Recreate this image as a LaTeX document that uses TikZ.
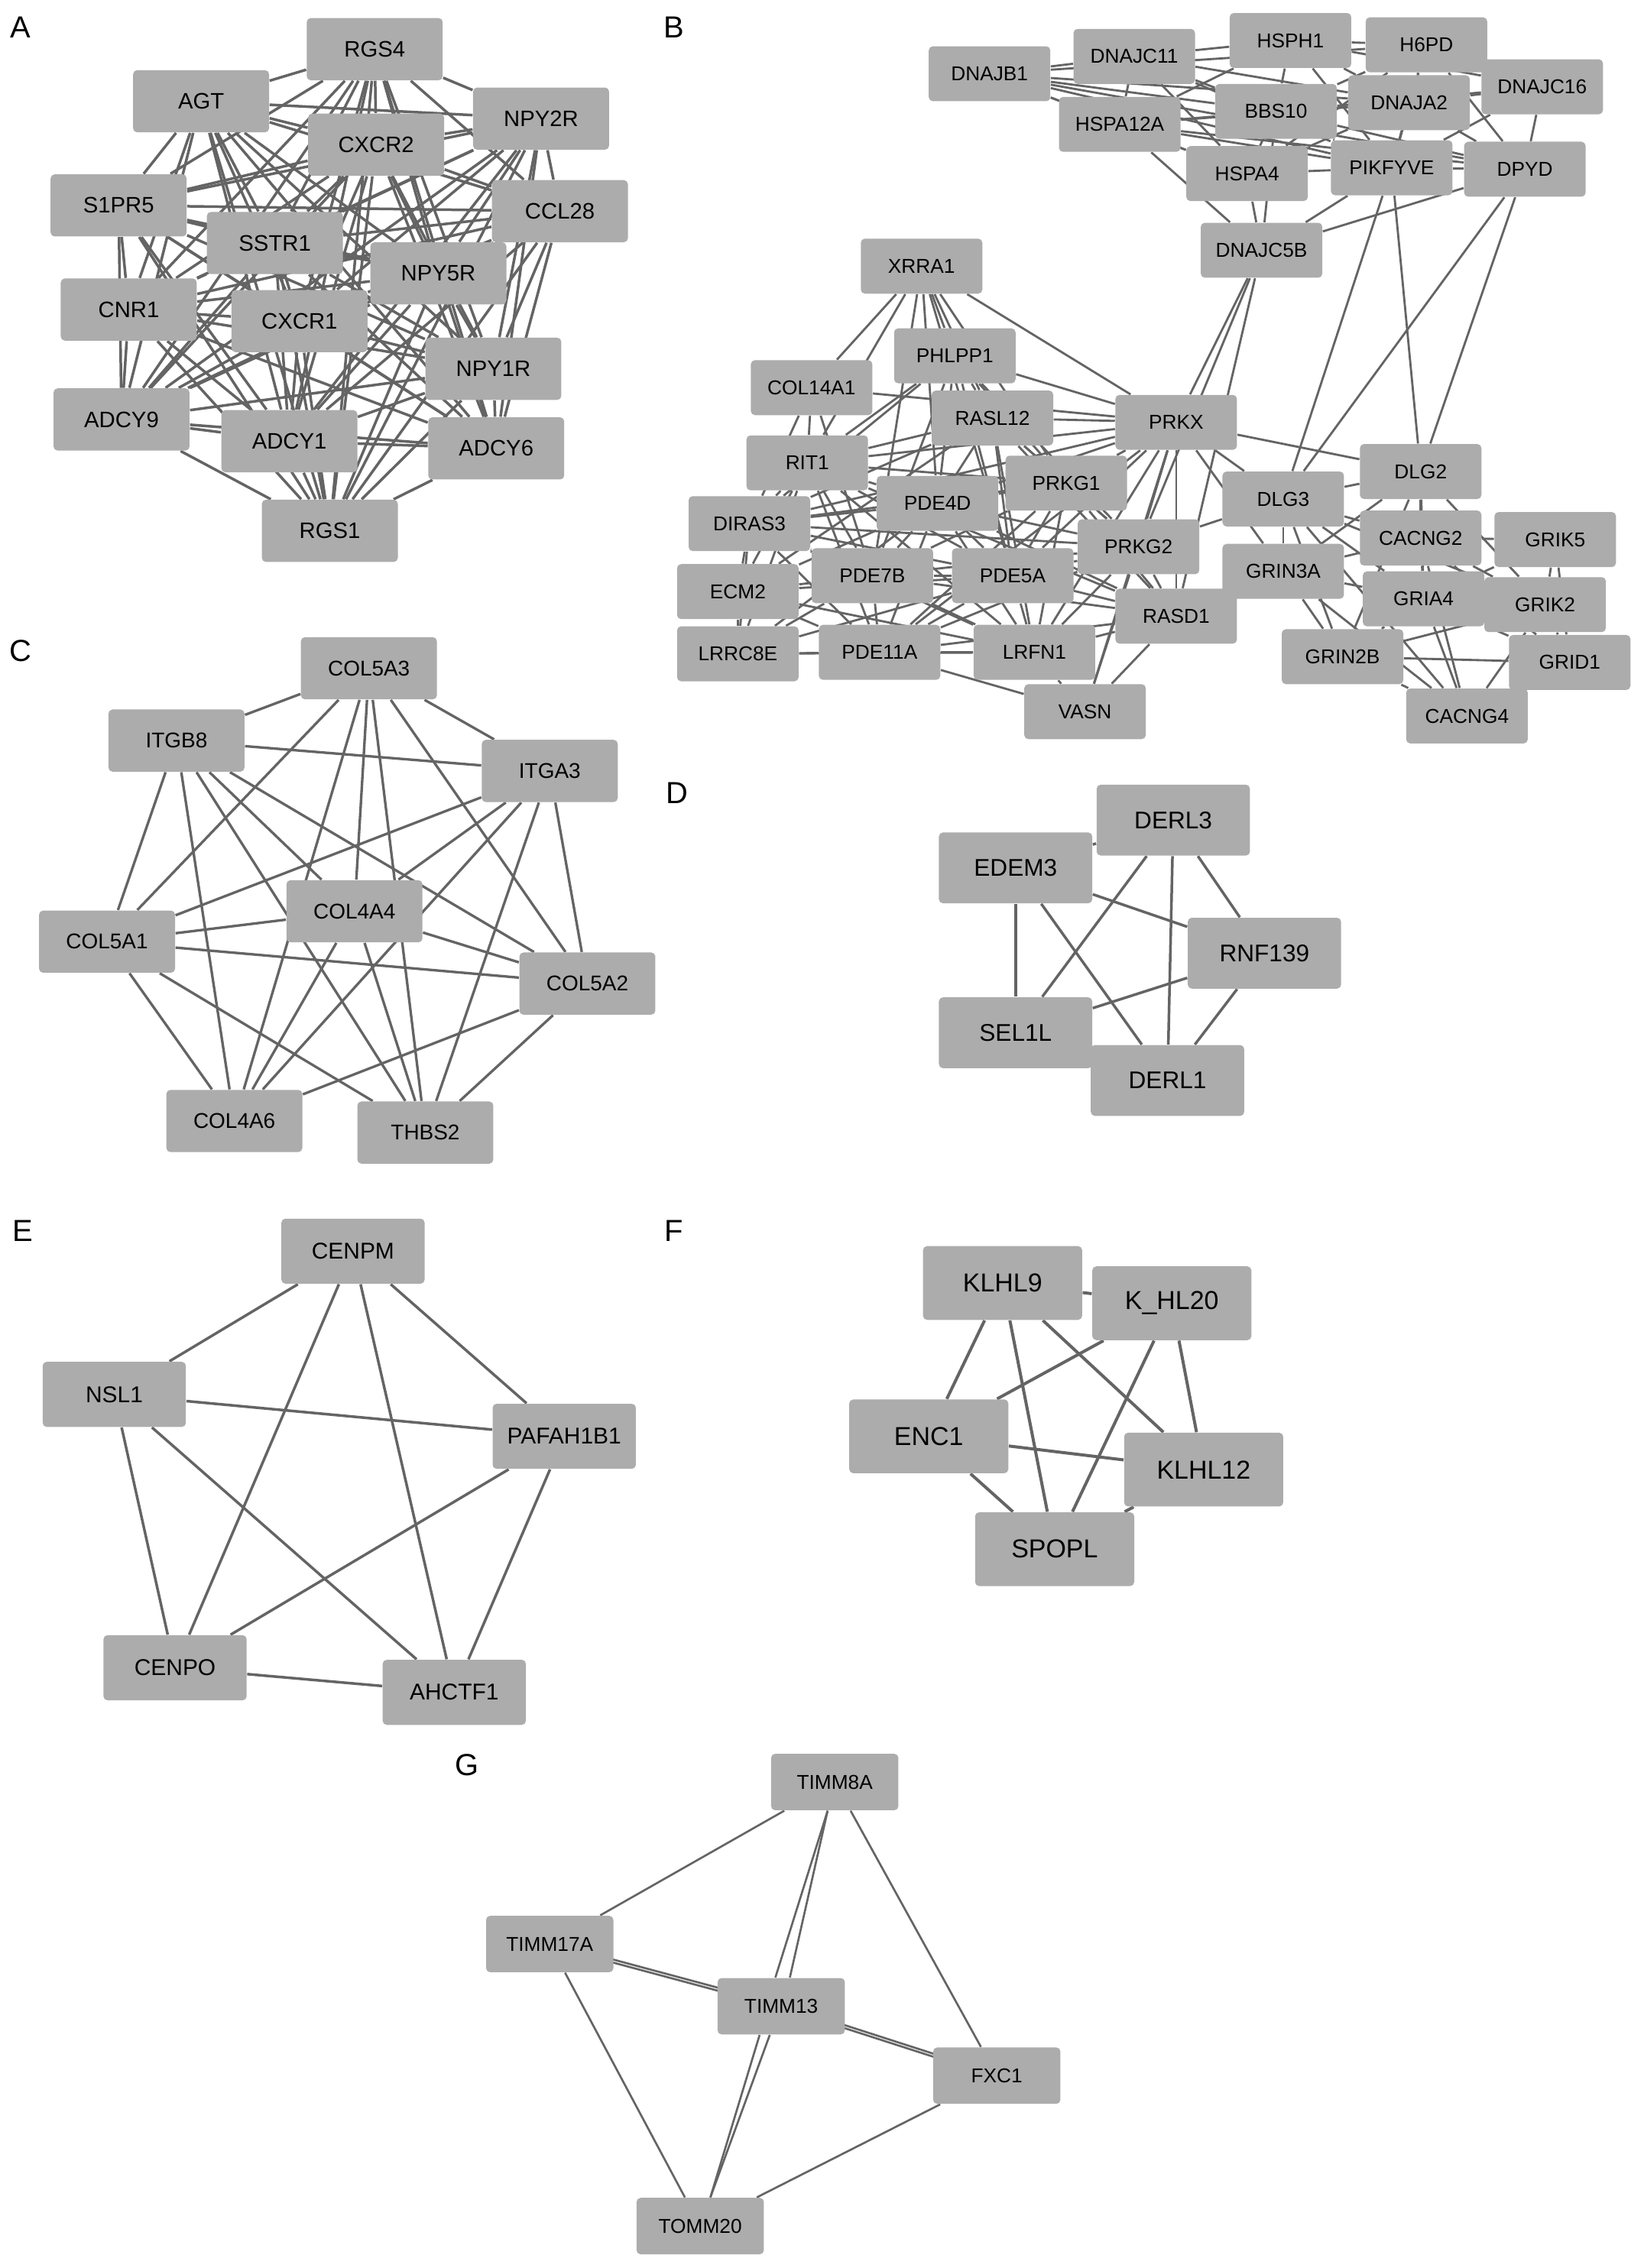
\documentclass[tikz,border=0pt]{standalone}
\usepackage{fontspec}
\setmainfont{Liberation Sans}
\definecolor{boxgray}{RGB}{172,172,172}
\definecolor{linegray}{RGB}{100,100,100}
\pgfdeclarelayer{edges}
\pgfsetlayers{edges,main}

\begin{document}
\begin{tikzpicture}[x=0.2mm, y=-0.2mm,
  gene/.style={fill=boxgray, rounded corners=1.6pt, inner sep=0pt, text=black},
  geneA/.style={gene, minimum width=1.88cm, minimum height=0.86cm, font=\fontsize{8.8}{10}\selectfont},
  geneB/.style={gene, minimum width=1.68cm, minimum height=0.76cm, font=\fontsize{7.9}{9}\selectfont},
  geneC/.style={gene, minimum width=1.88cm, minimum height=0.86cm, font=\fontsize{8.4}{10}\selectfont},
  geneD/.style={gene, minimum width=2.12cm, minimum height=0.98cm, font=\fontsize{9.5}{11}\selectfont},
  geneE/.style={gene, minimum width=1.98cm, minimum height=0.9cm, font=\fontsize{9}{11}\selectfont},
  geneF/.style={gene, minimum width=2.2cm, minimum height=1.02cm, font=\fontsize{10.2}{12}\selectfont},
  geneG/.style={gene, minimum width=1.76cm, minimum height=0.78cm, font=\fontsize{7.9}{9}\selectfont},
  link/.style={draw=linegray, line width=1pt},
  tag/.style={font=\fontsize{12}{14}\selectfont}]

\useasboundingbox (0,0) rectangle (1136,1568);

% panel letters
\node[tag] (labA) at (14,19) {A};
\node[tag] (labB) at (466,19) {B};
\node[tag] (labC) at (14,450) {C};
\node[tag] (labD) at (468,548) {D};
\node[tag] (labE) at (16,851) {E};
\node[tag] (labF) at (466,851) {F};
\node[tag] (labG) at (323,1220) {G};

% A: GPCR module
\node[geneA] (RGS4) at (259,34) {RGS4};
\node[geneA] (AGT) at (139,70) {AGT};
\node[geneA] (NPY2R) at (374,82) {NPY2R};
\node[geneA] (CXCR2) at (260,100) {CXCR2};
\node[geneA] (S1PR5) at (82,142) {S1PR5};
\node[geneA] (CCL28) at (387,146) {CCL28};
\node[geneA] (SSTR1) at (190,168) {SSTR1};
\node[geneA] (NPY5R) at (303,189) {NPY5R};
\node[geneA] (CNR1) at (89,214) {CNR1};
\node[geneA] (CXCR1) at (207,222) {CXCR1};
\node[geneA] (NPY1R) at (341,255) {NPY1R};
\node[geneA] (ADCY9) at (84,290) {ADCY9};
\node[geneA] (ADCY1) at (200,305) {ADCY1};
\node[geneA] (ADCY6) at (343,310) {ADCY6};
\node[geneA] (RGS1) at (228,367) {RGS1};

\begin{pgfonlayer}{edges}
\foreach \u [count=\i] in {RGS4,AGT,NPY2R,CXCR2,S1PR5,CCL28,SSTR1,NPY5R,CNR1,CXCR1,NPY1R,ADCY9,ADCY1,ADCY6,RGS1}
  \foreach \v [count=\j] in {RGS4,AGT,NPY2R,CXCR2,S1PR5,CCL28,SSTR1,NPY5R,CNR1,CXCR1,NPY1R,ADCY9,ADCY1,ADCY6,RGS1}
    {\ifnum\i<\j \draw[link, line width=1.05pt] (\u) -- (\v); \fi}
\end{pgfonlayer}

% B: three connected clusters
\node[geneB] (DNAJB1) at (684,51) {DNAJB1};
\node[geneB] (DNAJC11) at (784,39) {DNAJC11};
\node[geneB] (HSPH1) at (892,28) {HSPH1};
\node[geneB] (H6PD) at (986,31) {H6PD};
\node[geneB] (DNAJC16) at (1066,60) {DNAJC16};
\node[geneB] (BBS10) at (882,77) {BBS10};
\node[geneB] (DNAJA2) at (974,71) {DNAJA2};
\node[geneB] (HSPA12A) at (774,86) {HSPA12A};
\node[geneB] (HSPA4) at (862,120) {HSPA4};
\node[geneB] (PIKFYVE) at (962,116) {PIKFYVE};
\node[geneB] (DPYD) at (1054,117) {DPYD};
\node[geneB] (DNAJC5B) at (872,173) {DNAJC5B};

\node[geneB] (XRRA1) at (637,184) {XRRA1};
\node[geneB] (PHLPP1) at (660,246) {PHLPP1};
\node[geneB] (COL14A1) at (561,268) {COL14A1};
\node[geneB] (RASL12) at (686,289) {RASL12};
\node[geneB] (PRKX) at (813,292) {PRKX};
\node[geneB] (RIT1) at (558,320) {RIT1};
\node[geneB] (PRKG1) at (737,334) {PRKG1};
\node[geneB] (PDE4D) at (648,348) {PDE4D};
\node[geneB] (DIRAS3) at (518,362) {DIRAS3};
\node[geneB] (PRKG2) at (787,378) {PRKG2};
\node[geneB] (ECM2) at (510,409) {ECM2};
\node[geneB] (PDE7B) at (603,398) {PDE7B};
\node[geneB] (PDE5A) at (700,398) {PDE5A};
\node[geneB] (RASD1) at (813,426) {RASD1};
\node[geneB] (LRRC8E) at (510,452) {LRRC8E};
\node[geneB] (PDE11A) at (608,451) {PDE11A};
\node[geneB] (LRFN1) at (715,451) {LRFN1};
\node[geneB] (VASN) at (750,492) {VASN};

\node[geneB] (DLG2) at (982,326) {DLG2};
\node[geneB] (DLG3) at (887,345) {DLG3};
\node[geneB] (CACNG2) at (982,372) {CACNG2};
\node[geneB] (GRIK5) at (1075,373) {GRIK5};
\node[geneB] (GRIN3A) at (887,395) {GRIN3A};
\node[geneB] (GRIA4) at (984,414) {GRIA4};
\node[geneB] (GRIK2) at (1068,418) {GRIK2};
\node[geneB] (GRIN2B) at (928,454) {GRIN2B};
\node[geneB] (GRID1) at (1085,458) {GRID1};
\node[geneB] (CACNG4) at (1014,495) {CACNG4};

\begin{pgfonlayer}{edges}
\foreach \a/\b in {DNAJB1/DNAJC11, DNAJB1/BBS10, DNAJB1/DNAJA2, DNAJB1/HSPA4, DNAJB1/PIKFYVE,
  DNAJB1/HSPA12A, DNAJB1/DPYD, DNAJB1/H6PD, DNAJC11/HSPH1, DNAJC11/BBS10, DNAJC11/HSPA4,
  DNAJC11/DNAJA2, DNAJC11/PIKFYVE, DNAJC11/HSPA12A, HSPH1/H6PD, HSPH1/BBS10, HSPH1/DNAJA2,
  HSPH1/HSPA12A, HSPH1/PIKFYVE, HSPH1/DNAJC16, H6PD/BBS10, H6PD/DNAJA2, H6PD/DNAJC16,
  H6PD/HSPA4, H6PD/PIKFYVE, H6PD/DPYD, DNAJC16/DNAJA2, DNAJC16/DPYD, DNAJC16/PIKFYVE,
  DNAJC16/BBS10, BBS10/DNAJA2, BBS10/HSPA12A, BBS10/HSPA4, BBS10/PIKFYVE, BBS10/DPYD,
  BBS10/DNAJC5B, DNAJA2/HSPA12A, DNAJA2/HSPA4, DNAJA2/PIKFYVE, DNAJA2/DPYD, HSPA12A/HSPA4,
  HSPA12A/PIKFYVE, HSPA12A/DPYD, HSPA12A/DNAJC5B, HSPA4/PIKFYVE, HSPA4/DNAJC5B,
  PIKFYVE/DPYD, PIKFYVE/DNAJC5B, PIKFYVE/DLG2, PIKFYVE/DLG3, DPYD/DNAJC5B, DPYD/DLG2,
  DPYD/DLG3, DNAJC5B/PRKX, DNAJC5B/PRKG2, DNAJC5B/RASD1,
  XRRA1/COL14A1, XRRA1/RIT1, XRRA1/PHLPP1, XRRA1/RASL12, XRRA1/PDE4D, XRRA1/PDE7B,
  XRRA1/PDE5A, XRRA1/PRKG1, XRRA1/PRKX, PHLPP1/PRKX, PHLPP1/RASL12, PHLPP1/RIT1,
  PHLPP1/PDE4D, PHLPP1/PRKG1, PHLPP1/PDE7B, PHLPP1/DIRAS3, PHLPP1/PDE5A, PHLPP1/PRKG2,
  COL14A1/RIT1, COL14A1/PRKX, COL14A1/DIRAS3, COL14A1/PDE7B, RASL12/PRKX, RASL12/PRKG1,
  RASL12/PDE4D, RASL12/RIT1, RASL12/PDE5A, RASL12/PRKG2, RASL12/DIRAS3, RASL12/ECM2,
  RASL12/RASD1, RASL12/LRFN1, PRKX/PRKG1, PRKX/PDE4D, PRKX/PRKG2, PRKX/RASD1, PRKX/PDE5A,
  PRKX/RIT1, PRKX/DIRAS3, PRKX/VASN, PRKX/LRFN1, PRKX/PDE11A, PRKX/DLG2, PRKX/DLG3,
  PRKX/GRIN3A, RIT1/PDE4D, RIT1/PRKG1, RIT1/DIRAS3, RIT1/ECM2, RIT1/PDE7B, RIT1/PDE5A,
  RIT1/PDE11A, RIT1/LRFN1, RIT1/LRRC8E, RIT1/RASD1, PRKG1/PDE4D, PRKG1/PDE5A, PRKG1/PRKG2,
  PRKG1/PDE7B, PRKG1/RASD1, PRKG1/LRFN1, PRKG1/PDE11A, PRKG1/DIRAS3, PDE4D/DIRAS3,
  PDE4D/PDE7B, PDE4D/PDE5A, PDE4D/PRKG2, PDE4D/ECM2, PDE4D/LRRC8E, PDE4D/PDE11A,
  PDE4D/LRFN1, PDE4D/RASD1, DIRAS3/PDE7B, DIRAS3/ECM2, DIRAS3/PDE5A, DIRAS3/PRKG2,
  DIRAS3/LRRC8E, DIRAS3/PDE11A, DIRAS3/LRFN1, PRKG2/PDE5A, PRKG2/RASD1, PRKG2/PDE7B,
  PRKG2/LRFN1, PRKG2/VASN, PRKG2/DLG3, PRKG2/PDE11A, ECM2/PDE7B, ECM2/LRRC8E, ECM2/PDE5A,
  ECM2/PDE11A, ECM2/LRFN1, PDE7B/PDE5A, PDE7B/LRRC8E, PDE7B/PDE11A, PDE7B/LRFN1,
  PDE7B/RASD1, PDE5A/RASD1, PDE5A/LRFN1, PDE5A/PDE11A, PDE5A/LRRC8E, RASD1/LRFN1,
  RASD1/VASN, RASD1/PDE11A, LRRC8E/PDE11A, LRRC8E/LRFN1, PDE11A/LRFN1, PDE11A/VASN,
  LRFN1/VASN,
  DLG2/CACNG2, DLG2/GRIA4, DLG2/GRIK2, DLG2/GRIN3A, DLG2/DLG3, DLG2/GRIN2B, DLG3/CACNG2,
  DLG3/GRIN3A, DLG3/GRIA4, DLG3/GRIN2B, DLG3/CACNG4, DLG3/GRIK2, CACNG2/GRIK5,
  CACNG2/GRIA4, CACNG2/GRIK2, CACNG2/GRIN3A, CACNG2/GRID1, CACNG2/CACNG4, GRIK5/GRIK2,
  GRIK5/GRIA4, GRIK5/GRID1, GRIN3A/GRIA4, GRIN3A/GRIN2B, GRIN3A/CACNG4, GRIA4/GRIK2,
  GRIA4/GRIN2B, GRIA4/GRID1, GRIA4/CACNG4, GRIK2/GRID1, GRIK2/CACNG4, GRIK2/GRIN2B,
  GRIN2B/GRID1, GRIN2B/CACNG4, GRID1/CACNG4}
  \draw[link, line width=0.85pt] (\a) -- (\b);
\end{pgfonlayer}

% C: collagen module
\node[geneC] (COL5A3) at (255,462) {COL5A3};
\node[geneC] (ITGB8) at (122,512) {ITGB8};
\node[geneC] (ITGA3) at (380,533) {ITGA3};
\node[geneC] (COL4A4) at (245,630) {COL4A4};
\node[geneC] (COL5A1) at (74,651) {COL5A1};
\node[geneC] (COL5A2) at (406,680) {COL5A2};
\node[geneC] (COL4A6) at (162,775) {COL4A6};
\node[geneC] (THBS2) at (294,783) {THBS2};

\begin{pgfonlayer}{edges}
\foreach \a/\b in {COL5A3/ITGB8, COL5A3/ITGA3, COL5A3/COL5A1, COL5A3/COL4A4, COL5A3/COL4A6,
  COL5A3/THBS2, COL5A3/COL5A2, ITGB8/ITGA3, ITGB8/COL5A1, ITGB8/COL4A6, ITGB8/COL4A4,
  ITGB8/THBS2, ITGB8/COL5A2, ITGA3/COL5A1, ITGA3/COL4A4, ITGA3/COL4A6, ITGA3/THBS2,
  ITGA3/COL5A2, COL4A4/COL5A1, COL4A4/COL5A2, COL4A4/COL4A6, COL4A4/THBS2, COL5A1/COL5A2,
  COL5A1/COL4A6, COL5A1/THBS2, COL5A2/COL4A6, COL5A2/THBS2}
  \draw[link, line width=1pt] (\a) -- (\b);
\end{pgfonlayer}

% D
\node[geneD] (DERL3) at (811,567) {DERL3};
\node[geneD] (EDEM3) at (702,600) {EDEM3};
\node[geneD] (RNF139) at (874,659) {RNF139};
\node[geneD] (SEL1L) at (702,714) {SEL1L};
\node[geneD] (DERL1) at (807,747) {DERL1};

\begin{pgfonlayer}{edges}
\foreach \a/\b in {DERL3/EDEM3, DERL3/SEL1L, DERL3/DERL1, DERL3/RNF139, EDEM3/RNF139,
  EDEM3/SEL1L, EDEM3/DERL1, RNF139/SEL1L, RNF139/DERL1}
  \draw[link, line width=1.05pt] (\a) -- (\b);
\end{pgfonlayer}

% E
\node[geneE] (CENPM) at (244,865) {CENPM};
\node[geneE] (NSL1) at (79,964) {NSL1};
\node[geneE] (PAFAH1B1) at (390,993) {PAFAH1B1};
\node[geneE] (CENPO) at (121,1153) {CENPO};
\node[geneE] (AHCTF1) at (314,1170) {AHCTF1};

\begin{pgfonlayer}{edges}
\foreach \a/\b in {CENPM/NSL1, CENPM/PAFAH1B1, CENPM/CENPO, CENPM/AHCTF1, NSL1/PAFAH1B1,
  NSL1/CENPO, NSL1/AHCTF1, PAFAH1B1/CENPO, PAFAH1B1/AHCTF1, CENPO/AHCTF1}
  \draw[link, line width=1.05pt] (\a) -- (\b);
\end{pgfonlayer}

% F
\node[geneF] (KLHL9) at (693,887) {KLHL9};
\node[geneF] (KLHL20) at (810,901) {K\_HL20};
\node[geneF] (ENC1) at (642,993) {ENC1};
\node[geneF] (KLHL12) at (832,1016) {KLHL12};
\node[geneF] (SPOPL) at (729,1071) {SPOPL};

\begin{pgfonlayer}{edges}
\foreach \a/\b in {KLHL9/KLHL20, KLHL9/ENC1, KLHL9/SPOPL, KLHL9/KLHL12, KLHL20/ENC1,
  KLHL20/SPOPL, KLHL20/KLHL12, ENC1/KLHL12, ENC1/SPOPL, KLHL12/SPOPL}
  \draw[link, line width=1.2pt] (\a) -- (\b);
\end{pgfonlayer}

% G: mitochondrial import
\node[geneG] (TIMM8A) at (577,1232) {TIMM8A};
\node[geneG] (TIMM17A) at (380,1344) {TIMM17A};
\node[geneG] (TIMM13) at (540,1387) {TIMM13};
\node[geneG] (FXC1) at (689,1435) {FXC1};
\node[geneG] (TOMM20) at (484,1539) {TOMM20};

\begin{pgfonlayer}{edges}
\draw[link, line width=0.8pt] (TIMM8A) -- (TIMM17A);
\draw[link, line width=0.8pt] (TIMM8A) -- (FXC1);
\draw[link, line width=0.8pt] (TIMM17A) -- (TOMM20);
\draw[link, line width=0.8pt] (FXC1) -- (TOMM20);
\draw[link, line width=0.8pt] ([xshift=-2.8pt]TIMM8A.south) -- ([xshift=-2.3pt]TIMM13.north);
\draw[link, line width=0.8pt] ([xshift=-2.8pt]TIMM8A.south) -- ([xshift=3.4pt]TIMM13.north);
\draw[link, line width=0.8pt] ([xshift=-8.5pt]TIMM13.south) -- ([xshift=4pt]TOMM20.north);
\draw[link, line width=0.8pt] ([xshift=-4.5pt]TIMM13.south) -- ([xshift=4pt]TOMM20.north);
\draw[link, line width=0.8pt] ([yshift=0.6pt]TIMM17A.center) -- ([yshift=0.6pt]TIMM13.center);
\draw[link, line width=0.8pt] ([yshift=-0.6pt]TIMM17A.center) -- ([yshift=-0.6pt]TIMM13.center);
\draw[link, line width=0.8pt] ([yshift=0.6pt]TIMM13.center) -- ([yshift=0.6pt]FXC1.center);
\draw[link, line width=0.8pt] ([yshift=-0.6pt]TIMM13.center) -- ([yshift=-0.6pt]FXC1.center);
\end{pgfonlayer}

\end{tikzpicture}
\end{document}
